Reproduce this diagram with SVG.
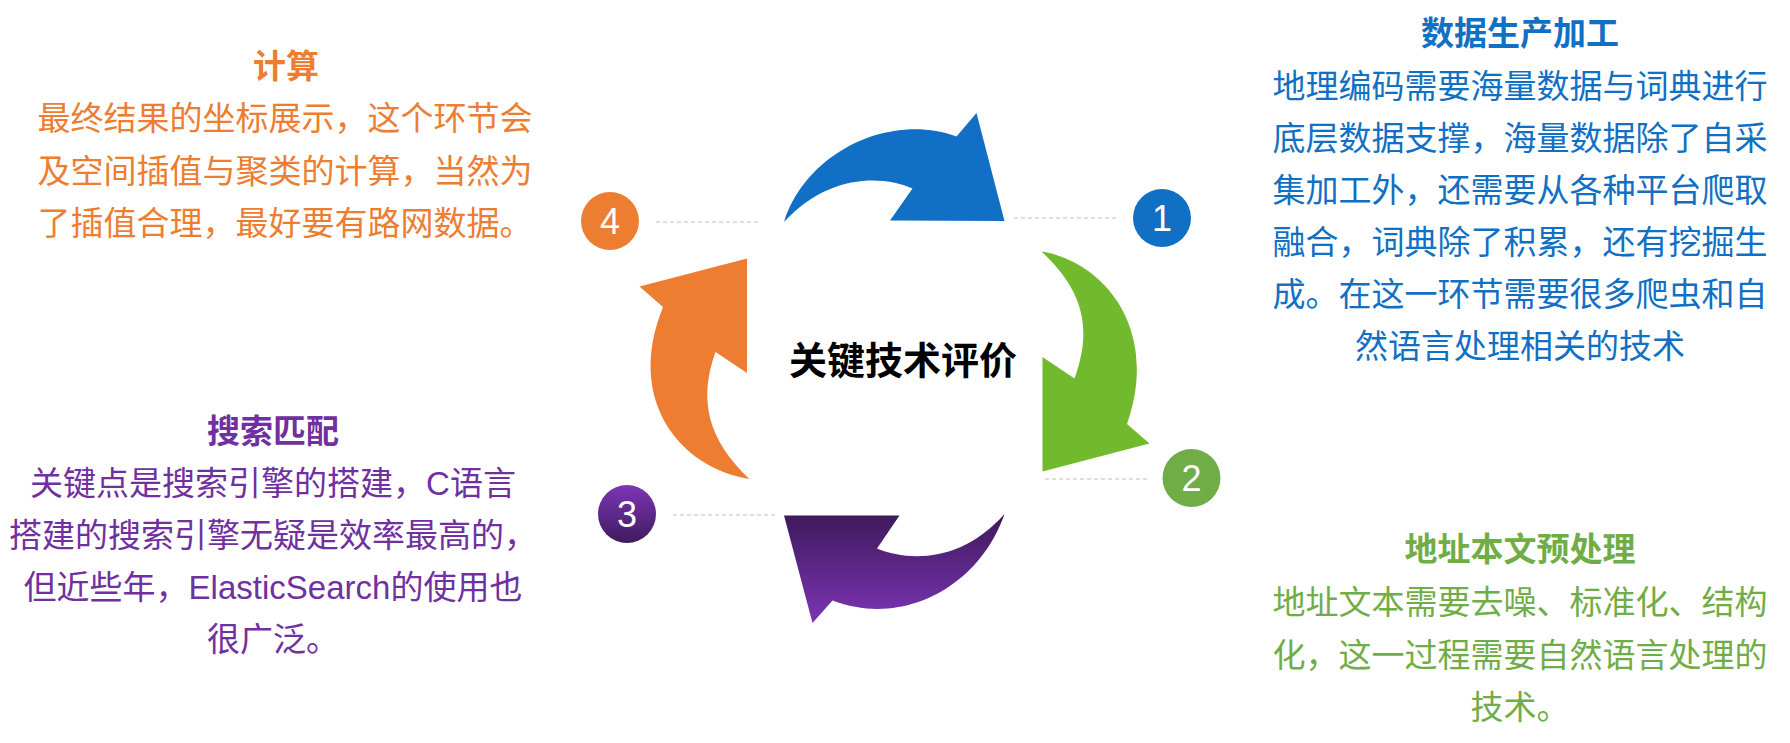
<svg xmlns="http://www.w3.org/2000/svg" width="1790" height="743" viewBox="0 0 1790 743">
  <defs>
    <linearGradient id="gPurpleArrow" x1="0" y1="0" x2="0" y2="1">
      <stop offset="0" stop-color="#3E195A"/>
      <stop offset="1" stop-color="#7C34B5"/>
    </linearGradient>
    <linearGradient id="gPurpleCircle" x1="0" y1="0" x2="0" y2="1">
      <stop offset="0" stop-color="#7D36B6"/>
      <stop offset="1" stop-color="#401A5E"/>
    </linearGradient>
  </defs>
  <style>
    .cjk { font-family: "Noto Sans CJK SC", "Liberation Sans", sans-serif; text-anchor: middle; }
    .lat { font-family: "Liberation Sans", Arial, sans-serif; }
    .title { font-size: 33px; font-weight: bold; }
    .body { font-size: 33px; }
    .num { font-family: "Liberation Sans", Arial, sans-serif; font-size: 36px; fill: #FFFFFF; text-anchor: middle; }
    .dash { stroke: #BFBFBF; stroke-width: 1.2; stroke-dasharray: 4 3; fill: none; }
    .blue { fill: #1170C4; }
    .orange { fill: #ED7D31; }
    .purple { fill: #7030A0; }
    .green { fill: #70AD47; }
  </style>
  <rect width="1790" height="743" fill="#FFFFFF"/>

  <g id="connectors">
    <line class="dash" x1="1014" y1="218" x2="1118" y2="218"/>
    <line class="dash" x1="656" y1="222" x2="759" y2="222"/>
    <line class="dash" x1="1045" y1="479" x2="1148" y2="479"/>
    <line class="dash" x1="673" y1="515" x2="777" y2="515"/>
  </g>

  <g id="cycle">
    <path id="arrow-blue" fill="#1170C6" d="M 784,222 C 806,152 890,112 956.5,136.5 L 976.5,113 L 1004.5,221 L 890,220.5 L 912.5,188.5 C 885,176 830,172 784,222 Z"/>
    <path id="arrow-green" fill="#71B92D" d="M 1041.5,251.5 C 1105,262 1160,330 1127,424 L 1149.5,443.5 L 1042.5,471.5 L 1042.5,357 L 1074.5,378.5 C 1092,330 1085,292 1041.5,251.5 Z"/>
    <path id="arrow-purple" fill="url(#gPurpleArrow)" d="M 1004.5,514 C 980,585 905,628 832.5,600.5 L 812.5,623 L 784,515.5 L 899.5,515.5 L 877,548.5 C 910,562 962,562 1004.5,514 Z"/>
    <path id="arrow-orange" fill="#ED7D31" d="M 749.5,479 C 680,468 625,400 663,307 L 639.5,286.5 L 747,258.5 L 747,373 L 715.5,352 C 698,400 708,440 749.5,479 Z"/>
    <text class="cjk" x="903" y="374" font-size="38" font-weight="bold" fill="#000000">关键技术评价</text>
  </g>

  <g id="node-1">
    <circle cx="1162" cy="218" r="29" fill="#1170C4"/>
    <text class="num" x="1162" y="231">1</text>
  </g>
  <g id="node-2">
    <circle cx="1191.5" cy="478" r="29" fill="#70AD47"/>
    <text class="num" x="1191.5" y="491">2</text>
  </g>
  <g id="node-3">
    <circle cx="627" cy="514" r="29" fill="url(#gPurpleCircle)"/>
    <text class="num" x="627" y="527">3</text>
  </g>
  <g id="node-4">
    <circle cx="610" cy="221" r="29" fill="#ED7D31"/>
    <text class="num" x="610" y="234">4</text>
  </g>

  <g id="text-data-production" class="cjk blue">
    <text class="title" x="1520" y="45">数据生产加工</text>
    <text class="body" x="1520" y="98">地理编码需要海量数据与词典进行</text>
    <text class="body" x="1520" y="150">底层数据支撑，海量数据除了自采</text>
    <text class="body" x="1520" y="202">集加工外，还需要从各种平台爬取</text>
    <text class="body" x="1520" y="254">融合，词典除了积累，还有挖掘生</text>
    <text class="body" x="1520" y="306">成。在这一环节需要很多爬虫和自</text>
    <text class="body" x="1520" y="358">然语言处理相关的技术</text>
  </g>

  <g id="text-address-preprocess" class="cjk green">
    <text class="title" x="1520" y="561">地址本文预处理</text>
    <text class="body" x="1520" y="614">地址文本需要去噪、标准化、结构</text>
    <text class="body" x="1520" y="667">化，这一过程需要自然语言处理的</text>
    <text class="body" x="1520" y="719">技术。</text>
  </g>

  <g id="text-search-match" class="cjk purple">
    <text class="title" x="273" y="443">搜索匹配</text>
    <text class="body" x="273" y="495">关键点是搜索引擎的搭建，<tspan class="lat">C</tspan>语言</text>
    <text class="body" x="273" y="547">搭建的搜索引擎无疑是效率最高的，</text>
    <text class="body" x="273" y="599">但近些年，<tspan class="lat">ElasticSearch</tspan>的使用也</text>
    <text class="body" x="273" y="651">很广泛。</text>
  </g>

  <g id="text-compute" class="cjk orange">
    <text class="title" x="286" y="78">计算</text>
    <text class="body" x="285" y="130">最终结果的坐标展示，这个环节会</text>
    <text class="body" x="285" y="183">及空间插值与聚类的计算，当然为</text>
    <text class="body" x="285" y="235">了插值合理，最好要有路网数据。</text>
  </g>
</svg>
